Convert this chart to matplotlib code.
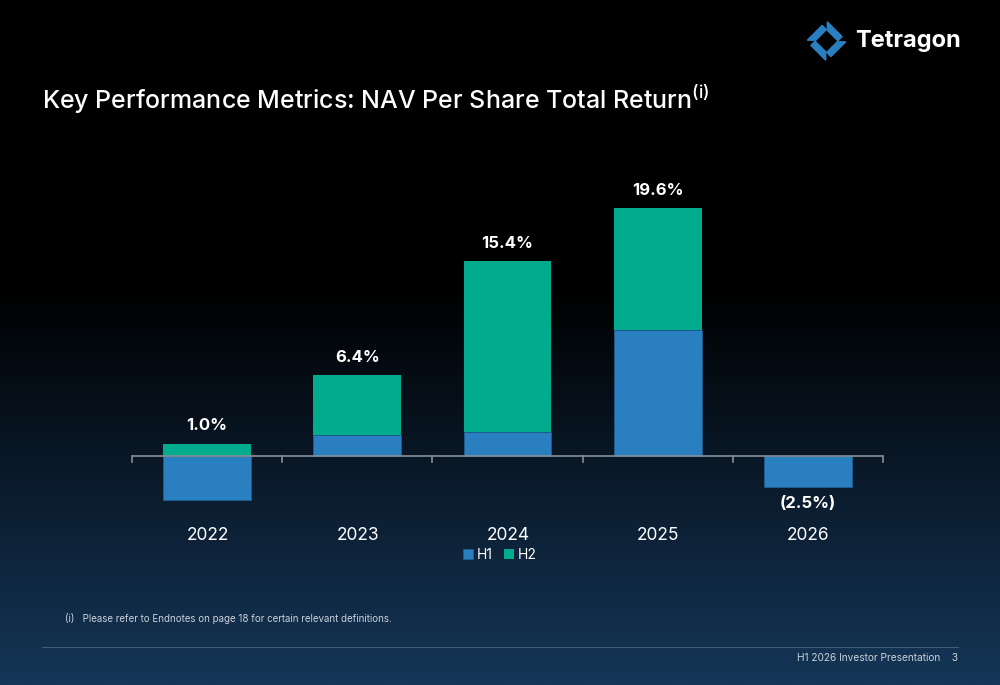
import numpy as np
import matplotlib.pyplot as plt
from matplotlib.patches import Polygon
from matplotlib.colors import LinearSegmentedColormap

plt.rcParams['font.family'] = ['Inter', 'DejaVu Sans']

years = ['2022', '2023', '2024', '2025', '2026']
h1 = [-3.5, 1.65, 1.9, 10.0, -2.5]
h2 = [0.95, 4.75, 13.5, 9.6, 0.0]
totals = [1.0, 6.4, 15.4, 19.6, -2.5]

blue = '#2a7fc1'
green = '#00ab8e'

fig = plt.figure(figsize=(10, 6.85), dpi=100)

# background gradient
bg = fig.add_axes([0, 0, 1, 1], zorder=-10)
grad_cmap = LinearSegmentedColormap.from_list(
    'bg', [(0, '#000000'), (0.42, '#000000'), (0.7, '#0a1a2b'), (1.0, '#153657')])
g = np.linspace(0, 1, 400).reshape(-1, 1)
bg.imshow(g, aspect='auto', cmap=grad_cmap, extent=[0, 1, 0, 1], origin='upper')
bg.set_xlim(0, 1)
bg.set_ylim(0, 1)
bg.axis('off')

ax = fig.add_axes([0.132, 0.2423, 0.751, 0.4977])
ax.set_facecolor('none')
x = np.arange(len(years))
ax.bar(x, h1, width=0.585, color=blue, edgecolor='#1d5e92', linewidth=0.6, label='H1', zorder=2)
h2_bottom = [max(v, 0) for v in h1]
ax.bar(x, h2, width=0.585, bottom=h2_bottom, color=green, label='H2', zorder=2)

ax.set_xlim(-0.5, len(years) - 0.5)
ax.set_ylim(-5, 22)
for s in ['top', 'right', 'left', 'bottom']:
    ax.spines[s].set_visible(False)
ax.set_yticks([])
ax.axhline(0, color='#8a8f96', linewidth=1.2, zorder=3)
for b in np.arange(-0.5, len(years), 1.0):
    ax.plot([b, b], [0, -0.45], color='#8a8f96', linewidth=1.2, zorder=3, clip_on=False)
ax.set_xticks([])

for i, t in enumerate(totals):
    lab = f'{t:.1f}%' if t >= 0 else f'({abs(t):.1f}%)'
    if t >= 0:
        top = h2_bottom[i] + h2[i]
        ax.annotate(lab, (i, top), xytext=(0, 7.5), textcoords='offset points',
                    ha='center', va='bottom', color='white', fontsize=12, fontweight='bold')
    else:
        ax.annotate(lab, (i, h1[i]), xytext=(0, -6.5), textcoords='offset points',
                    ha='center', va='top', color='white', fontsize=12, fontweight='bold')

for i, y in enumerate(years):
    fig.text(0.208 + 0.15 * i, 1 - 535 / 685, y, ha='center', va='center',
             color='white', fontsize=12.5)

leg = fig.legend(loc='center', bbox_to_anchor=(0.5, 1 - 555 / 685), ncol=2, frameon=False,
                 fontsize=10, labelcolor='white', handlelength=0.7, handleheight=0.7,
                 handletextpad=0.3, columnspacing=0.8)

# title
fig.text(0.042, 1 - 100 / 685, 'Key Performance Metrics: NAV Per Share Total Return$^{\\mathregular{(i)}}$',
         ha='left', va='center', color='white', fontsize=18, fontweight='medium')

# logo
cx, cy, r = 826.5, 41, 20
def P(px, py):
    return (px / 1000, 1 - py / 685)
for k in range(4):
    ang = np.pi / 2 - k * np.pi / 2
    ang2 = ang - np.pi / 2
    a = np.array([cx + r * np.cos(ang), cy - r * np.sin(ang)])
    b = np.array([cx + r * np.cos(ang2), cy - r * np.sin(ang2)])
    c = np.array([cx, cy])
    d = b - a
    du = d / np.linalg.norm(d)
    n = c - (a + b) / 2
    n = n / np.linalg.norm(n) * 6
    p1 = a + d * 0.04
    p2 = a + d * 0.78
    p3 = p2 + n
    p4 = p1 + n + du * 6
    pts = [P(*p1), P(*p2), P(*p3), P(*p4)]
    bg.add_patch(Polygon(pts, closed=True, color=blue, transform=fig.transFigure))
fig.text(0.855, 1 - 41 / 685, 'Tetragon', ha='left', va='center', color='white',
         fontsize=17, fontweight='bold')

# footnote and footer
fig.text(0.065, 1 - 618 / 685, '(i)   Please refer to Endnotes on page 18 for certain relevant definitions.',
         ha='left', va='center', color='#c9d1da', fontsize=7.0)
bg.plot([0.042, 0.958], [1 - 647 / 685, 1 - 647 / 685], color='#3f5b78', linewidth=0.8)
fig.text(0.958, 1 - 658 / 685, 'H1 2026 Investor Presentation    3', ha='right', va='center',
         color='#c9d1da', fontsize=7.3)

fig.savefig('out.png', dpi=100)
